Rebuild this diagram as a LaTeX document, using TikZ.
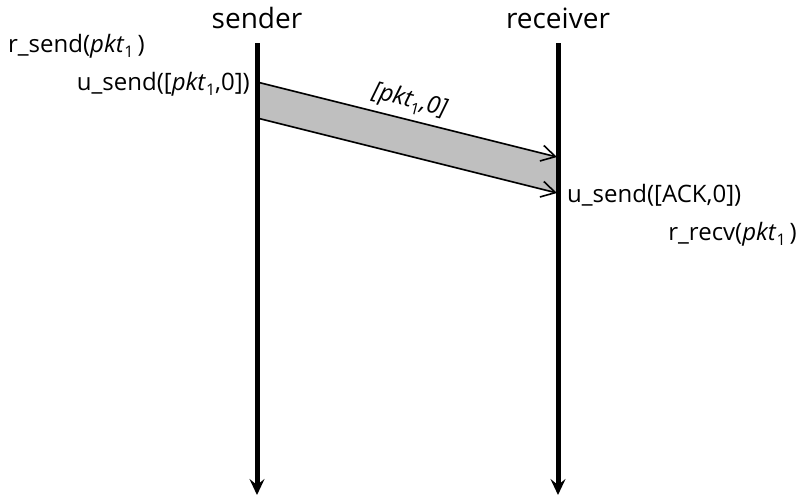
\documentclass[tikz,border=0pt]{standalone}
\usepackage{fontspec}
\setmainfont{Open Sans}
\usetikzlibrary{arrows.meta}
\newcommand\subone{\raisebox{-0.45ex}{\fontsize{16}{16}\selectfont\upshape 1}}
\newcommand\pktsub{\textit{pkt}\subone}
\tikzset{
  lifeline/.style={line width=5pt,-{Stealth[width=15pt,length=16pt,inset=6pt]}},
  title/.style={font=\fontsize{28}{28}\selectfont,inner sep=0pt},
  lbl/.style={font=\fontsize{24}{24}\selectfont,inner sep=0pt},
  msg/.style={line width=1.6pt,-{Straight Barb[width=16pt,length=14pt,line width=1.6pt]}},
  band/.style={fill=black!25,draw=none}
}
\begin{document}
\begin{tikzpicture}[x=1pt,y=-1pt]
\useasboundingbox (0,0) rectangle (803,496);
% lifelines
\coordinate (s0) at (257,43);
\coordinate (s1) at (257,495);
\coordinate (r0) at (558,43);
\coordinate (r1) at (558,495);
\node[title,anchor=base] (sender) at (257,28) {sender};
\node[title,anchor=base] (receiver) at (558,28) {receiver};
% message band
\coordinate (a1) at (257,82);
\coordinate (a2) at (257,118);
\coordinate (b1) at (557,157);
\coordinate (b2) at (557,193);
\fill[band] (a1) -- (b1) -- (b2) -- (a2) -- cycle;
\draw[msg] (a1) -- (b1);
\draw[msg] (a2) -- (b2);
\draw[lifeline] (s0) -- (s1);
\draw[lifeline] (r0) -- (r1);
\node[lbl,anchor=base,rotate=-14] (m) at (408,107) {\itshape [pkt\subone,0]};
\node[lbl,anchor=base west] (l1) at (8,52) {r\_send(\pktsub\,)};
\node[lbl,anchor=base east] (l2) at (250,90) {u\_send([\pktsub,0])};
\node[lbl,anchor=base west] (l3) at (567,202) {u\_send([ACK,0])};
\node[lbl,anchor=base east] (l4) at (797,240) {r\_recv(\pktsub\,)};
\end{tikzpicture}
\end{document}
